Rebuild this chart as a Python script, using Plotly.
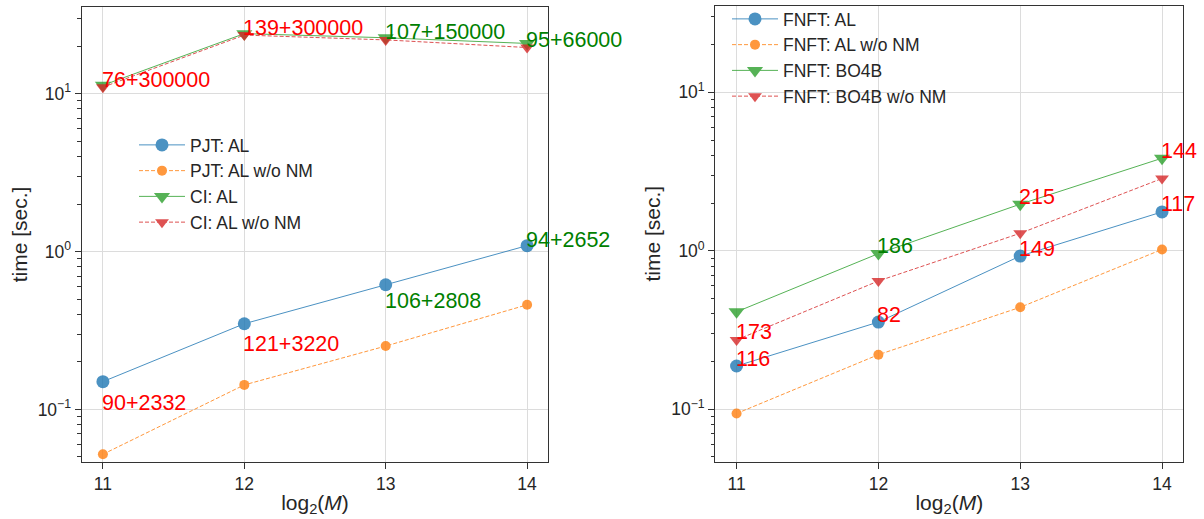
import numpy as np
import plotly.graph_objects as go

W, H = 1204, 519

# ---------------- data ----------------
log2M = [11, 12, 13, 14]

# left panel
pjt_al = [0.150, 0.349, 0.616, 1.09]
pjt_al_nonm = [0.052, 0.143, 0.252, 0.46]
ci_al = [11.3, 24.0, 22.6, 20.8]
ci_al_nonm = [11.0, 23.5, 21.9, 19.6]

ci_labels = ["76+300000", "139+300000", "107+150000", "95+66000"]
ci_label_colors = ["red", "red", "green", "green"]
pjt_labels = ["90+2332", "121+3220", "106+2808", "94+2652"]
pjt_label_colors = ["red", "red", "green", "green"]
pjt_label_y = [0.099, 0.232, 0.4375, 1.06]

# right panel
fnft_al = [0.1875, 0.355, 0.927, 1.76]
fnft_al_nonm = [0.094, 0.221, 0.44, 1.02]
fnft_bo4b = [0.412, 0.96, 1.97, 3.84]
fnft_bo4b_nonm = [0.274, 0.645, 1.29, 2.86]

al_labels = ["116", "82", "149", "117"]
al_label_colors = ["red", "red", "red", "red"]
bo4b_labels = ["173", "186", "215", "144"]
bo4b_label_colors = ["red", "green", "red", "red"]
bo4b_label_series = ["nonm", "al", "al", "al"]

xticks = [11, 12, 13, 14]
yticks = [0.1, 1, 10]
yticktext = ["10<sup>\u22121</sup>", "10<sup>0</sup>", "10<sup>1</sup>"]
yminor = [0.05, 0.06, 0.07, 0.08, 0.09, 0.2, 0.3, 0.4, 0.5, 0.6, 0.7, 0.8, 0.9,
          2, 3, 4, 5, 6, 7, 8, 9, 20, 30]

# ---------------- style ----------------
BLUE, ORANGE, GREEN, RED = "#1f77b4", "#ff7f0e", "#2ca02c", "#d62728"
FONT = "Liberation Sans, Arial, sans-serif"
TXT = "#262626"
GRID = "#dcdcdc"
AX = "#333333"

fig = go.Figure()


def add_series(x, y, name, color, symbol, size, dash, xa, ya, legend):
    fig.add_trace(go.Scatter(
        x=x, y=y, name=name, mode="lines+markers",
        line=dict(color=color, width=1, dash=dash),
        marker=dict(color=color, symbol=symbol, size=size, line=dict(width=0)),
        opacity=0.8, xaxis=xa, yaxis=ya, legend=legend))


add_series(log2M, pjt_al, "PJT: AL", BLUE, "circle", 13, "solid", "x", "y", "legend")
add_series(log2M, pjt_al_nonm, "PJT: AL w/o NM", ORANGE, "circle", 10, "4px,2px", "x", "y", "legend")
add_series(log2M, ci_al, "CI: AL", GREEN, "triangle-down", 14, "solid", "x", "y", "legend")
add_series(log2M, ci_al_nonm, "CI: AL w/o NM", RED, "triangle-down", 12, "4px,2px", "x", "y", "legend")

add_series(log2M, fnft_al, "FNFT: AL", BLUE, "circle", 13, "solid", "x2", "y2", "legend2")
add_series(log2M, fnft_al_nonm, "FNFT: AL w/o NM", ORANGE, "circle", 10, "4px,2px", "x2", "y2", "legend2")
add_series(log2M, fnft_bo4b, "FNFT: BO4B", GREEN, "triangle-down", 14, "solid", "x2", "y2", "legend2")
add_series(log2M, fnft_bo4b_nonm, "FNFT: BO4B w/o NM", RED, "triangle-down", 12, "4px,2px", "x2", "y2", "legend2")

annotations = []


def label(x, y, text, color, xref, yref):
    annotations.append(dict(
        x=x, y=float(np.log10(y)), xref=xref, yref=yref, text=text,
        showarrow=False, xanchor="left", yanchor="bottom", yshift=-6.5, xshift=-3,
        font=dict(family=FONT, size=21.5, color=color)))


for i, xv in enumerate(log2M):
    label(xv, ci_al_nonm[i], ci_labels[i], ci_label_colors[i], "x", "y")
    label(xv, pjt_label_y[i], pjt_labels[i], pjt_label_colors[i], "x", "y")
    label(xv, fnft_al[i], al_labels[i], al_label_colors[i], "x2", "y2")
    yb = fnft_bo4b_nonm[i] if bo4b_label_series[i] == "nonm" else fnft_bo4b[i]
    label(xv, yb, bo4b_labels[i], bo4b_label_colors[i], "x2", "y2")

# axis layout
xl = [81.7 / W, 548.3 / W]
xr = [715.3 / W, 1183.3 / W]
yl = [1 - 461.7 / H, 1 - 7.3 / H]
yr = [1 - 461.7 / H, 1 - 5.7 / H]
yrange = [-1.331, 1.547]

common_x = dict(
    range=[10.85, 14.15], tickmode="array", tickvals=xticks,
    showgrid=True, gridcolor=GRID, gridwidth=1,
    showline=True, mirror=True, linecolor=AX, linewidth=1.25,
    ticks="outside", ticklen=6, tickwidth=1, tickcolor=AX,
    tickfont=dict(family=FONT, size=17.5, color=TXT),
    zeroline=False, automargin=False,
    title=dict(text="log<sub>2</sub>(<i>M</i>)", font=dict(family=FONT, size=21, color=TXT), standoff=2),
)
common_y = dict(
    type="log", range=yrange, tickmode="array", tickvals=yticks, ticktext=yticktext,
    showgrid=True, gridcolor=GRID, gridwidth=1,
    showline=True, mirror=True, linecolor=AX, linewidth=1.25,
    ticks="outside", ticklen=6, tickwidth=1, tickcolor=AX,
    tickfont=dict(family=FONT, size=17.5, color=TXT),
    minor=dict(tickmode="array", tickvals=yminor, ticks="outside", ticklen=3.5,
               tickwidth=1, tickcolor=AX, showgrid=False),
    zeroline=False, automargin=False,
    title=dict(text="time [sec.]", font=dict(family=FONT, size=21, color=TXT), standoff=4),
)

fig.update_layout(
    width=W, height=H,
    margin=dict(l=0, r=0, t=0, b=0),
    paper_bgcolor="white", plot_bgcolor="white",
    font=dict(family=FONT, color=TXT),
    xaxis=dict(domain=xl, anchor="y", **common_x),
    yaxis=dict(domain=yl, anchor="x", **common_y),
    xaxis2=dict(domain=xr, anchor="y2", **common_x),
    yaxis2=dict(domain=yr, anchor="x2", **common_y),
    legend=dict(x=134 / W, y=1 - 127 / H, xanchor="left", yanchor="top",
                bgcolor="rgba(0,0,0,0)", borderwidth=0, itemwidth=46,
                font=dict(family=FONT, size=17.5, color=TXT), tracegroupgap=0),
    legend2=dict(x=727 / W, y=1 - 1 / H, xanchor="left", yanchor="top",
                 bgcolor="rgba(0,0,0,0)", borderwidth=0, itemwidth=46,
                 font=dict(family=FONT, size=17.5, color=TXT), tracegroupgap=0),
    annotations=annotations,
    showlegend=True,
)

fig.write_html("out.html", config={"displayModeBar": False},
               post_script="document.body.style.margin='0';document.body.style.overflow='hidden';")
